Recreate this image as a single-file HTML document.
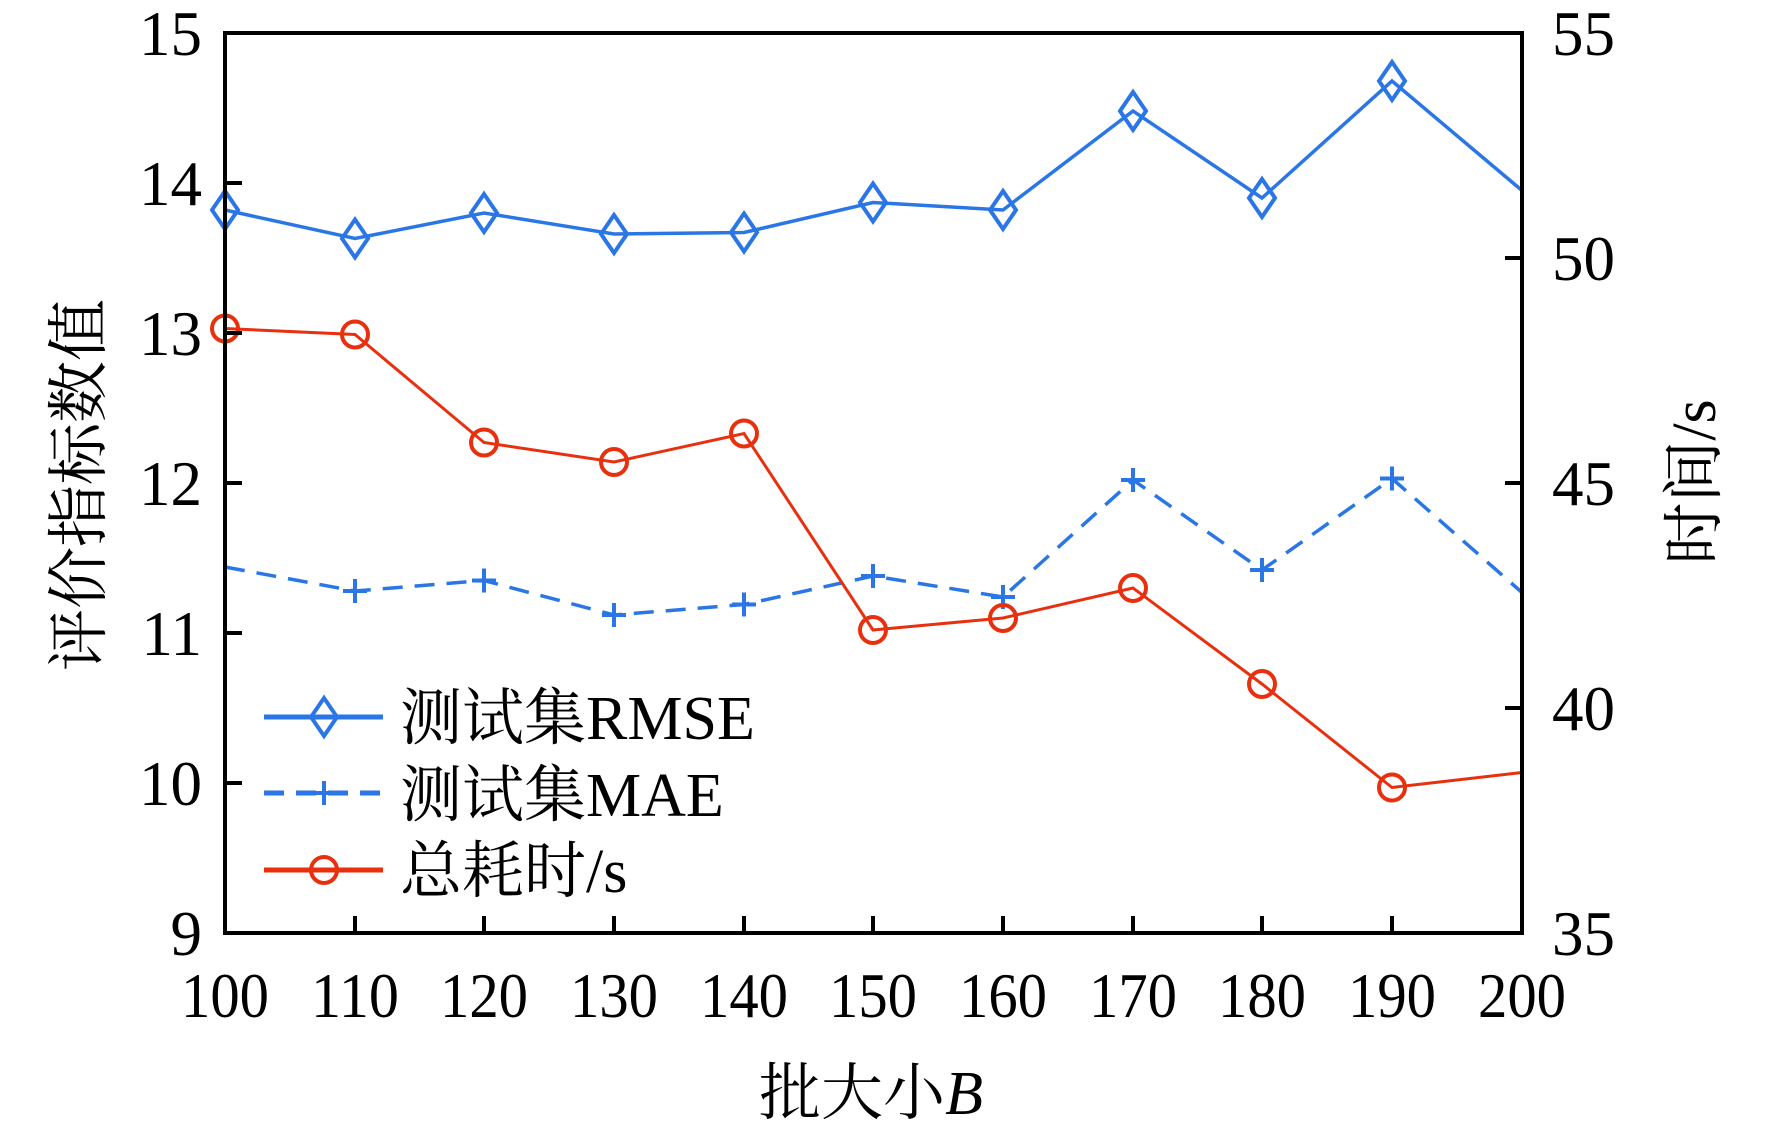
<!DOCTYPE html>
<html><head><meta charset="utf-8"><style>
html,body{margin:0;padding:0;background:#fff;}
svg{display:block;}
text{font-family:"Liberation Serif","Noto Serif CJK SC","Noto Sans CJK SC",serif;fill:#000;}
</style></head><body>
<svg width="1772" height="1132" viewBox="0 0 1772 1132" xmlns="http://www.w3.org/2000/svg">
<defs>
<g id="dm"><path d="M0,-19 L13,0 L0,19 L-13,0 Z" fill="none" stroke="#2a76e6" stroke-width="4"/></g>
<g id="pl"><path d="M-12,0 H12 M0,-12 V12" stroke="#2a76e6" stroke-width="4"/></g>
<g id="ci"><circle r="13" fill="none" stroke="#e8300e" stroke-width="4"/></g>
</defs>
<polyline fill="none" stroke="#2a76e6" stroke-width="3.5" points="225,210 355,238.5 484,213 614,234 744,232.5 873,202.5 1003,210 1133,111 1262,198 1392,81 1522,190.5"/>
<polyline fill="none" stroke="#2a76e6" stroke-width="3.5" stroke-dasharray="20,12" points="225,567 355,591 484,580.5 614,615 744,604.5 873,576 1003,597 1133,480 1262,570 1392,478.5 1522,592.5"/>
<polyline fill="none" stroke="#e8300e" stroke-width="3" points="225,328.5 355,334.5 484,442.5 614,462 744,433.5 873,630 1003,618 1133,588 1262,684 1392,787.5 1522,772.5"/>
<g>
<use href="#dm" x="225" y="210"/><use href="#dm" x="355" y="238.5"/><use href="#dm" x="484" y="213"/><use href="#dm" x="614" y="234"/><use href="#dm" x="744" y="232.5"/><use href="#dm" x="873" y="202.5"/><use href="#dm" x="1003" y="210"/><use href="#dm" x="1133" y="111"/><use href="#dm" x="1262" y="198"/><use href="#dm" x="1392" y="81"/>
<use href="#pl" x="355" y="591"/><use href="#pl" x="484" y="580.5"/><use href="#pl" x="614" y="615"/><use href="#pl" x="744" y="604.5"/><use href="#pl" x="873" y="576"/><use href="#pl" x="1003" y="597"/><use href="#pl" x="1133" y="480"/><use href="#pl" x="1262" y="570"/><use href="#pl" x="1392" y="478.5"/>
<use href="#ci" x="225" y="328.5"/><use href="#ci" x="355" y="334.5"/><use href="#ci" x="484" y="442.5"/><use href="#ci" x="614" y="462"/><use href="#ci" x="744" y="433.5"/><use href="#ci" x="873" y="630"/><use href="#ci" x="1003" y="618"/><use href="#ci" x="1133" y="588"/><use href="#ci" x="1262" y="684"/><use href="#ci" x="1392" y="787.5"/>
</g>
<rect x="225" y="33" width="1297" height="900" fill="none" stroke="#000" stroke-width="4"/>
<g stroke="#000" stroke-width="4">
<path d="M225,183 h17 M225,333 h17 M225,483 h17 M225,633 h17 M225,783 h17"/>
<path d="M1522,258 h-17 M1522,483 h-17 M1522,708 h-17"/>
<path d="M355,933 v-17 M484,933 v-17 M614,933 v-17 M744,933 v-17 M873,933 v-17 M1003,933 v-17 M1133,933 v-17 M1262,933 v-17 M1392,933 v-17"/>
</g>
<g font-size="63" text-anchor="end">
<text x="202" y="55">15</text><text x="202" y="205">14</text><text x="202" y="355">13</text><text x="202" y="505">12</text><text x="202" y="655">11</text><text x="202" y="805">10</text><text x="202" y="955">9</text>
</g>
<g font-size="63" text-anchor="start">
<text x="1552" y="55">55</text><text x="1552" y="280">50</text><text x="1552" y="505">45</text><text x="1552" y="730">40</text><text x="1552" y="955">35</text>
</g>
<g font-size="63" text-anchor="middle">
<text x="225" y="1017" textLength="88" lengthAdjust="spacingAndGlyphs">100</text><text x="355" y="1017" textLength="88" lengthAdjust="spacingAndGlyphs">110</text><text x="484" y="1017" textLength="88" lengthAdjust="spacingAndGlyphs">120</text><text x="614" y="1017" textLength="88" lengthAdjust="spacingAndGlyphs">130</text><text x="744" y="1017" textLength="88" lengthAdjust="spacingAndGlyphs">140</text><text x="873" y="1017" textLength="88" lengthAdjust="spacingAndGlyphs">150</text><text x="1003" y="1017" textLength="88" lengthAdjust="spacingAndGlyphs">160</text><text x="1133" y="1017" textLength="88" lengthAdjust="spacingAndGlyphs">170</text><text x="1262" y="1017" textLength="88" lengthAdjust="spacingAndGlyphs">180</text><text x="1392" y="1017" textLength="88" lengthAdjust="spacingAndGlyphs">190</text><text x="1522" y="1017" textLength="88" lengthAdjust="spacingAndGlyphs">200</text>
</g>
<text x="871" y="1114" font-size="62" text-anchor="middle">批大小<tspan font-style="italic">B</tspan></text>
<text transform="translate(100,485) rotate(-90)" font-size="62" text-anchor="middle">评价指标数值</text>
<text transform="translate(1715,482) rotate(-90)" font-size="62" text-anchor="middle">时间/s</text>
<line x1="264" y1="717" x2="383" y2="717" stroke="#2a76e6" stroke-width="5"/>
<use href="#dm" x="324" y="717"/>
<line x1="264" y1="793" x2="383" y2="793" stroke="#2a76e6" stroke-width="5" stroke-dasharray="20,12"/>
<use href="#pl" x="324" y="793"/>
<line x1="264" y1="870" x2="383" y2="870" stroke="#e8300e" stroke-width="5"/>
<use href="#ci" x="324" y="870"/>
<g font-size="62">
<text x="400" y="739">测试集RMSE</text>
<text x="400" y="816">测试集MAE</text>
<text x="400" y="892">总耗时/s</text>
</g>
</svg>
</body></html>
